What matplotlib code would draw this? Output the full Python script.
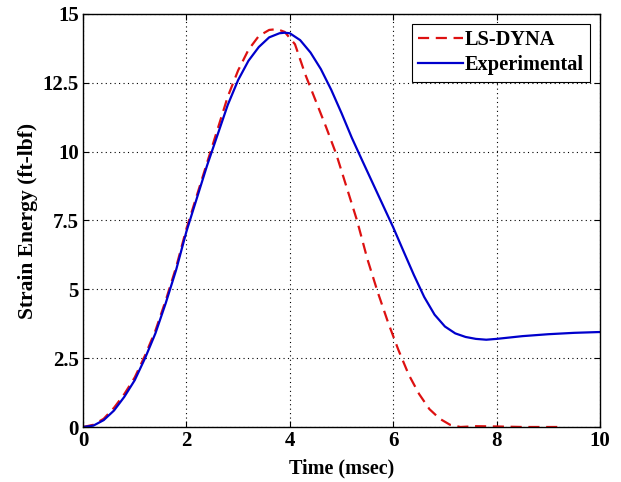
import matplotlib
matplotlib.use("Agg")
import matplotlib.pyplot as plt

# time (msec) and strain energy (ft-lbf)
t_dyna = [0.0, 0.2, 0.4, 0.6, 0.8, 1.0, 1.2, 1.4, 1.6, 1.8, 2.0, 2.2, 2.4, 2.6,
          2.8, 3.0, 3.2, 3.4, 3.6, 3.75, 3.9, 4.1, 4.3, 4.5, 4.7, 4.9, 5.1,
          5.3, 5.5, 5.7, 5.9, 6.1, 6.3, 6.5, 6.7, 6.9, 7.1, 7.3, 7.6, 8.0,
          8.5, 9.0, 9.3]
e_dyna = [0.0, 0.08, 0.3, 0.7, 1.2, 1.8, 2.6, 3.5, 4.6, 5.8, 7.2, 8.4, 9.6,
          10.8, 12.0, 12.95, 13.7, 14.2, 14.42, 14.45, 14.35, 13.9, 12.8,
          11.85, 10.9, 9.9, 8.7, 7.5, 6.1, 4.9, 3.8, 2.8, 1.9, 1.2, 0.65,
          0.3, 0.08, 0.0, 0.03, 0.02, 0.0, 0.0, 0.0]

t_exp = [0.0, 0.2, 0.4, 0.6, 0.8, 1.0, 1.2, 1.4, 1.6, 1.8, 2.0, 2.2, 2.4, 2.6,
         2.8, 3.0, 3.2, 3.4, 3.6, 3.8, 3.9, 4.0, 4.2, 4.4, 4.6, 4.8, 5.0,
         5.2, 5.4, 5.6, 5.8, 6.0, 6.2, 6.4, 6.6, 6.8, 7.0, 7.2, 7.4, 7.6,
         7.8, 8.0, 8.5, 9.0, 9.5, 10.0]
e_exp = [0.0, 0.05, 0.25, 0.6, 1.1, 1.7, 2.5, 3.4, 4.5, 5.7, 7.1, 8.3, 9.5,
         10.6, 11.7, 12.6, 13.3, 13.8, 14.15, 14.3, 14.32, 14.3, 14.05,
         13.6, 13.0, 12.25, 11.4, 10.5, 9.68, 8.87, 8.06, 7.25, 6.38, 5.52,
         4.72, 4.08, 3.65, 3.4, 3.27, 3.2, 3.17, 3.2, 3.3, 3.37, 3.42, 3.45]

x_ticks = [0, 2, 4, 6, 8, 10]
y_ticks = [0, 2.5, 5, 7.5, 10, 12.5, 15]
y_labels = ["0", "2.5", "5", "7.5", "10", "12.5", "15"]

plt.rcParams["font.family"] = ["Liberation Serif", "DejaVu Serif"]
plt.rcParams["font.weight"] = "bold"

fig = plt.figure(figsize=(6.21, 4.82), dpi=100)
ax = fig.add_axes([0.1337, 0.1141, 0.8325, 0.8569])

ax.plot(t_dyna, e_dyna, "--", color="#dd1111", linewidth=1.6,
        dashes=(5, 3), label="LS-DYNA")
ax.plot(t_exp, e_exp, "-", color="#0000cc", linewidth=1.6,
        label="Experimental")

ax.set_xlim(0, 10)
ax.set_ylim(0, 15)
ax.set_xticks(x_ticks)
ax.set_yticks(y_ticks)
ax.set_yticklabels(y_labels)
ax.tick_params(direction="in", top=True, right=True, labelsize=15,
               length=4, width=0.8, pad=3)
for lab in ax.get_xticklabels() + ax.get_yticklabels():
    lab.set_fontweight("bold")
for sp in ax.spines.values():
    sp.set_linewidth(1.0)

ax.grid(True, linestyle=(0, (1, 3)), color="black", linewidth=0.8)

ax.set_xlabel("Time (msec)", fontsize=14.5, fontweight="bold", labelpad=5)
ax.set_ylabel("Strain Energy (ft-lbf)", fontsize=15.5, fontweight="bold",
              labelpad=3)

leg = ax.legend(loc="upper right", fontsize=14.7, handlelength=2.2,
                handletextpad=0.1, borderaxespad=0.5, fancybox=False,
                framealpha=1, borderpad=0.3, labelspacing=0.25)
leg.get_frame().set_edgecolor("black")
leg.get_frame().set_linewidth(0.8)
for txt in leg.get_texts():
    txt.set_fontweight("bold")

fig.savefig("out.png", dpi=100)
